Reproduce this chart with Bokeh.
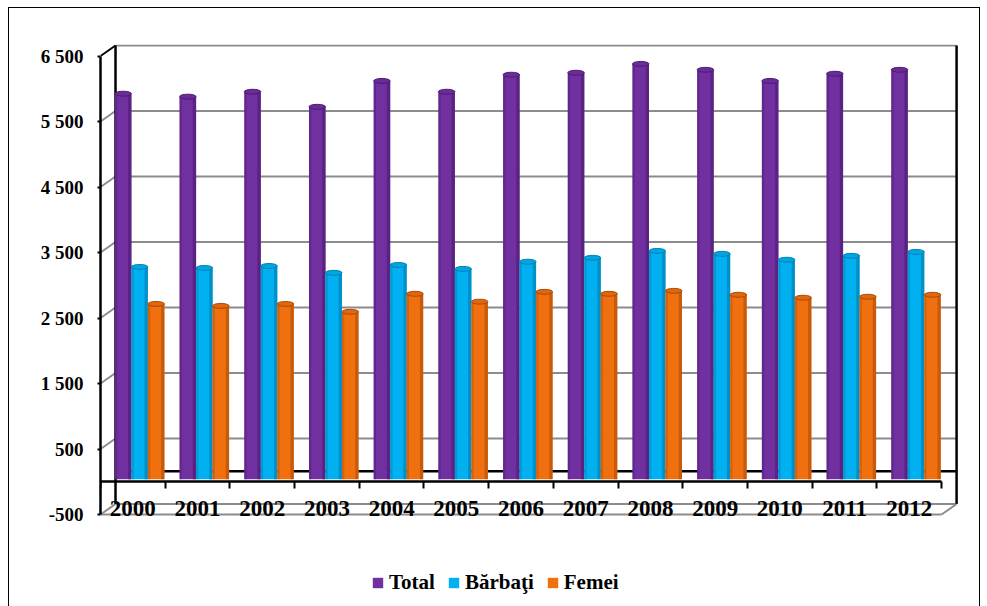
from bokeh.plotting import figure
from bokeh.models import FixedTicker, Legend, LegendItem, Range1d
from bokeh.embed import file_html
from bokeh.resources import INLINE

# ---- data ----
years = ["2000", "2001", "2002", "2003", "2004", "2005", "2006",
         "2007", "2008", "2009", "2010", "2011", "2012"]
total = [5925, 5880, 5955, 5725, 6120, 5955, 6215, 6245, 6380, 6290, 6120, 6230, 6290]
barbati = [3280, 3265, 3295, 3190, 3310, 3250, 3360, 3420, 3525, 3480, 3390, 3450, 3510]
femei = [2715, 2685, 2715, 2595, 2870, 2750, 2900, 2870, 2915, 2855, 2810, 2825, 2855]
series_names = ["Total", "Bărbaţi", "Femei"]
y_ticks = [-500, 500, 1500, 2500, 3500, 4500, 5500, 6500]
y_tick_labels = ["-500", "500", "1 500", "2 500", "3 500", "4 500", "5 500", "6 500"]

# ---- styling ----
FONT = "Liberation Serif"
n = len(years)
x_idx = list(range(n))
dx, dy = 0.232, 160          # depth offset of the 3D back wall (x units, y units)
bar_w = 0.255
offsets = [-0.15, 0.105, 0.36]
palettes = [
    # base, dark edge, top, top line
    ("#7030A0", "#55217c", "#6a2c99", "#4c1b70"),
    ("#00B0F0", "#0088bd", "#00a6e4", "#007fb0"),
    ("#F07010", "#bd560a", "#e2670c", "#a84a06"),
]

p = figure(width=970, height=598, output_backend="svg", toolbar_location=None,
           x_range=Range1d(-0.5, 12.777), y_range=Range1d(-1874, 6676),
           min_border_left=91, min_border_right=20, min_border_top=36,
           min_border_bottom=2)
p.styles = {"margin-left": "9px", "margin-top": "8px", "outline": "1.5px solid black"}
p.outline_line_color = None
p.xgrid.visible = False
p.ygrid.visible = False
p.background_fill_color = "white"
p.border_fill_color = "white"

GRAY = "#8c8c8c"
back_y = [v + dy for v in y_ticks]
# back wall gridlines
p.segment(x0=-0.5 + dx, y0=back_y, x1=n - 0.5 + dx, y1=back_y, line_color=GRAY, line_width=2)
# left side-wall diagonals
p.segment(x0=-0.5, y0=y_ticks[:-1], x1=-0.5 + dx, y1=back_y[:-1], line_color=GRAY, line_width=2)
p.segment(x0=[-0.5], y0=[y_ticks[-1]], x1=[-0.5 + dx], y1=[back_y[-1]], line_color="black", line_width=2)
# back zero line
p.segment(x0=[-0.5 + dx], y0=[dy], x1=[n - 0.5 + dx], y1=[dy], line_color="black", line_width=2.5)
# back verticals
p.segment(x0=[-0.5 + dx, n - 0.5 + dx], y0=[back_y[0]] * 2, x1=[-0.5 + dx, n - 0.5 + dx],
          y1=[back_y[-1]] * 2, line_color="black", line_width=2.5)
# floor front edge and right diagonal
p.segment(x0=[-0.5], y0=[y_ticks[0]], x1=[n - 0.5], y1=[y_ticks[0]], line_color=GRAY, line_width=2)
p.segment(x0=[n - 0.5], y0=[y_ticks[0]], x1=[n - 0.5 + dx], y1=[back_y[0]], line_color=GRAY, line_width=2)

legend_items = []
for vals, name, off, (base, dark, topc, topl) in zip([total, barbati, femei], series_names, offsets, palettes):
    xs = [i + off for i in x_idx]
    main = p.vbar(x=xs, top=vals, bottom=40, width=bar_w, fill_color=base, line_color=None)
    sl, sr = bar_w * 0.14, bar_w * 0.2
    p.vbar(x=[x - bar_w / 2 + sl / 2 for x in xs], top=vals, bottom=40, width=sl,
           fill_color=dark, fill_alpha=0.55, line_color=None)
    p.vbar(x=[x + bar_w / 2 - sr / 2 for x in xs], top=vals, bottom=40, width=sr,
           fill_color=dark, fill_alpha=0.8, line_color=None)
    p.ellipse(x=xs, y=vals, width=bar_w, height=75, fill_color=topc, line_color=topl, line_width=1)
    legend_items.append(LegendItem(label=name, renderers=[main]))

# y axis (front)
ya = p.yaxis[0]
ya.ticker = FixedTicker(ticks=y_ticks)
ya.major_label_overrides = {v: s for v, s in zip(y_ticks, y_tick_labels)}
ya.bounds = (y_ticks[0], y_ticks[-1])
ya.axis_line_color = "black"
ya.axis_line_width = 2.5
ya.major_tick_out = 3
ya.major_tick_in = 0
ya.major_tick_line_color = "black"
ya.major_tick_line_width = 2
ya.minor_tick_out = 0
ya.minor_tick_in = 0
ya.major_label_standoff = 14
ya.major_label_text_font = FONT
ya.major_label_text_font_style = "bold"
ya.major_label_text_font_size = "19px"
ya.major_label_text_color = "black"

# x axis (category axis at value 0)
xa = p.xaxis[0]
xa.fixed_location = 0
xa.ticker = FixedTicker(ticks=x_idx, minor_ticks=[i - 0.5 for i in range(n + 1)])
xa.major_label_overrides = {i: y for i, y in zip(x_idx, years)}
xa.bounds = (-0.5, n - 0.5)
xa.axis_line_color = "black"
xa.axis_line_width = 2.5
xa.major_tick_out = 0
xa.major_tick_in = 0
xa.minor_tick_out = 7
xa.minor_tick_in = 0
xa.minor_tick_line_color = "black"
xa.minor_tick_line_width = 2
xa.major_label_standoff = 12
xa.major_label_text_font = FONT
xa.major_label_text_font_style = "bold"
xa.major_label_text_font_size = "23px"
xa.major_label_text_color = "black"

legend = Legend(items=legend_items, location=(271, 9), orientation="horizontal",
                border_line_color=None, background_fill_alpha=0, padding=0, margin=0,
                spacing=12, glyph_width=13, glyph_height=13, label_standoff=5,
                label_text_font=FONT, label_text_font_style="bold",
                label_text_font_size="21px", label_text_color="black")
p.add_layout(legend)

open("out.html", "w").write(file_html(p, INLINE))
